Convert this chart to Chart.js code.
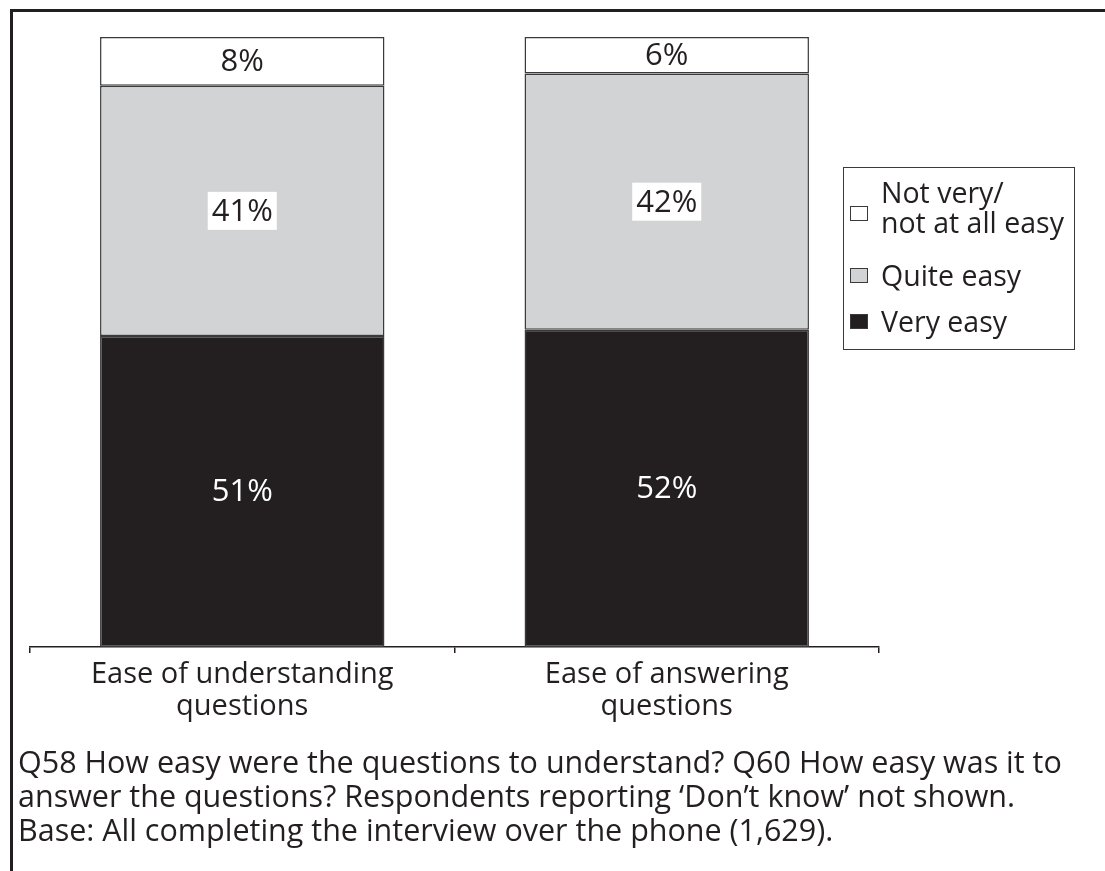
<!DOCTYPE html>
<html>
<head>
    <title>Ease of understanding and answering questions</title>
    <meta charset="utf-8">
    <script src="https://cdn.jsdelivr.net/npm/chart.js"></script>
    <style>
        body {
            margin: 0;
            width: 1105px;
            height: 871px;
            background: #fff;
            font-family: "Open Sans", "Noto Sans", sans-serif;
            color: #231f20;
            position: relative;
            overflow: hidden;
        }

        /* Frame: only top and left edges are visible in the original */
        .frame {
            position: absolute;
            left: 10px;
            top: 9px;
            width: 1200px;
            height: 1000px;
            border-left: 3px solid #231f20;
            border-top: 3px solid #231f20;
        }

        .chart-box {
            position: absolute;
            left: 0;
            top: 0;
            width: 1105px;
            height: 760px;
        }

        .legend {
            position: absolute;
            left: 843px;
            top: 167px;
            width: 230px;
            height: 181px;
            border: 1.5px solid #3a3a3a;
            font-size: 28.5px;
        }

        .legend-item {
            position: absolute;
            left: 6px;
            display: flex;
            align-items: center;
            line-height: 30px;
        }

        .legend-item .swatch {
            width: 16px;
            height: 13px;
            border: 1.5px solid #3a3a3a;
            margin-right: 13px;
            flex: none;
        }

        .note {
            position: absolute;
            left: 18px;
            top: 744px;
            font-size: 30.5px;
            line-height: 34px;
            white-space: nowrap;
        }
    </style>
</head>
<body>
    <div class="frame"></div>
    <div class="chart-box"><canvas id="chart"></canvas></div>
    <div class="legend" id="legend"></div>
    <div class="note">
        Q58 How easy were the questions to understand? Q60 How easy was it to<br>
        answer the questions? Respondents reporting ‘Don’t know’ not shown.<br>
        Base: All completing the interview over the phone (1,629).
    </div>

    <script>
        // Dados do gráfico
        var categories = [['Ease of understanding', 'questions'], ['Ease of answering', 'questions']];
        var seriesNames = ['Very easy', 'Quite easy', 'Not very/ not at all easy'];
        var veryEasy = [51, 52];
        var quiteEasy = [41, 42];
        var notEasy = [8, 6];
        var seriesColors = ['#231f20', '#d1d3d4', '#ffffff'];
        var labelColors = ['#ffffff', '#231f20', '#231f20'];

        var labelFont = '31px "Open Sans", "Noto Sans", sans-serif';

        // Rótulos de valor dentro das barras
        var valueLabels = {
            id: 'valueLabels',
            afterDatasetsDraw: function(chart) {
                var ctx = chart.ctx;
                ctx.save();
                ctx.font = labelFont;
                ctx.textAlign = 'center';
                ctx.textBaseline = 'middle';
                chart.data.datasets.forEach(function(ds, i) {
                    var meta = chart.getDatasetMeta(i);
                    meta.data.forEach(function(bar, j) {
                        var text = ds.data[j] + '%';
                        var cy = (bar.y + bar.base) / 2;
                        if (i === 1) {
                            var w = ctx.measureText(text).width;
                            ctx.fillStyle = '#ffffff';
                            ctx.fillRect(bar.x - w / 2 - 4, cy - 19, w + 8, 38);
                        }
                        ctx.fillStyle = labelColors[i];
                        ctx.fillText(text, bar.x, cy + 1);
                    });
                });
                ctx.restore();
            }
        };

        var datasets = [veryEasy, quiteEasy, notEasy].map(function(values, i) {
            return {
                label: seriesNames[i],
                data: values,
                backgroundColor: seriesColors[i],
                borderColor: '#3a3a3a',
                borderWidth: 1.5,
                borderSkipped: false,
                barPercentage: 0.67,
                categoryPercentage: 1
            };
        });

        var ctx = document.getElementById('chart').getContext('2d');
        new Chart(ctx, {
            type: 'bar',
            data: { labels: categories, datasets: datasets },
            options: {
                responsive: true,
                maintainAspectRatio: false,
                animation: false,
                layout: { padding: { left: 30, right: 226, top: 37, bottom: 13 } },
                plugins: {
                    legend: { display: false },
                    tooltip: { enabled: false }
                },
                scales: {
                    x: {
                        stacked: true,
                        afterFit: function(scale) { scale.height = 100; },
                        grid: {
                            drawOnChartArea: false,
                            drawTicks: true,
                            tickLength: 6,
                            color: '#231f20',
                            lineWidth: 1.5
                        },
                        border: { display: true, color: '#231f20', width: 1.5 },
                        ticks: {
                            color: '#231f20',
                            padding: 6,
                            font: { family: '"Open Sans", "Noto Sans", sans-serif', size: 29, lineHeight: 1.1 }
                        }
                    },
                    y: {
                        stacked: true,
                        display: false,
                        min: 0,
                        max: 100
                    }
                }
            },
            plugins: [valueLabels]
        });

        // Legenda em HTML
        var legend = document.getElementById('legend');
        var legendTops = [9, 92, 138];
        var legendText = ['Not very/<br>not at all easy', 'Quite easy', 'Very easy'];
        [2, 1, 0].forEach(function(s, k) {
            var item = document.createElement('div');
            item.className = 'legend-item';
            item.style.top = legendTops[k] + 'px';
            var sw = document.createElement('span');
            sw.className = 'swatch';
            sw.style.background = seriesColors[s];
            if (k === 0) sw.style.marginTop = '12px';
            var label = document.createElement('span');
            label.innerHTML = legendText[k];
            item.appendChild(sw);
            item.appendChild(label);
            legend.appendChild(item);
        });
    </script>
</body>
</html>
